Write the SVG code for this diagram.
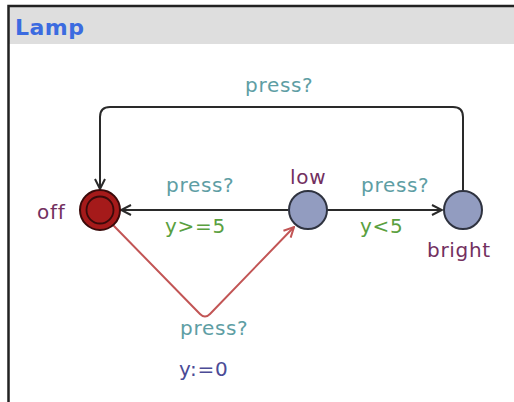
<svg xmlns="http://www.w3.org/2000/svg" width="514" height="402" viewBox="0 0 514 402">
<defs>
<style>
.t{font-family:"DejaVu Sans",sans-serif;font-size:20px;letter-spacing:0.7px}
.sync{fill:#5e9ea4}
.guard{fill:#5aa040}
.assign{fill:#4b4b96}
.name{fill:#73305f}
.edge{fill:none;stroke:#2a2a2a;stroke-width:2}
.red{fill:none;stroke:#c25555;stroke-width:2}
.loc{fill:#929cc0;stroke:#2f3340;stroke-width:2}
</style>
<marker id="ah" viewBox="0 0 12 12" refX="11" refY="6" markerWidth="12" markerHeight="12" markerUnits="userSpaceOnUse" orient="auto"><path d="M1,1 L11,6 L1,11" fill="none" stroke="#2a2a2a" stroke-width="2"/></marker>
<marker id="ahr" viewBox="0 0 12 12" refX="11" refY="6" markerWidth="12" markerHeight="12" markerUnits="userSpaceOnUse" orient="auto"><path d="M1,1 L11,6 L1,11" fill="none" stroke="#c25555" stroke-width="2"/></marker>
</defs>
<rect x="0" y="0" width="514" height="402" fill="#ffffff"/>
<rect x="9" y="7" width="510" height="37" fill="#dedede"/>
<path d="M8.5,404 V6 H516" fill="none" stroke="#222" stroke-width="2.5"/>
<text x="15" y="35" font-family="DejaVu Sans,sans-serif" font-weight="bold" font-size="22" fill="#3b6be0" letter-spacing="0.5">Lamp</text>
<g id="connectors">
<path class="edge" d="M463,190 V117 Q463,107 453,107 H110 Q100,107 100,117 V189" marker-end="url(#ah)"/>
<path class="edge" d="M288,210 H121" marker-end="url(#ah)"/>
<path class="edge" d="M327,210 H442" marker-end="url(#ah)"/>
<path class="red" d="M113,225 L200,314 Q205,319 210,314 L294,227" marker-end="url(#ahr)"/>
<text class="t sync" x="245" y="92">press?</text>
<text class="t sync" x="166" y="192">press?</text>
<text class="t guard" x="165" y="233">y&gt;=5</text>
<text class="t sync" x="361" y="192">press?</text>
<text class="t guard" x="360" y="233">y&lt;5</text>
<text class="t sync" x="180" y="335">press?</text>
<text class="t assign" x="179" y="376">y:=0</text>
</g>
<g id="off">
<circle cx="100" cy="210" r="20" fill="#a51a1a" stroke="#3a0a0a" stroke-width="2"/>
<circle cx="100" cy="210" r="13.5" fill="none" stroke="#3a0a0a" stroke-width="1.8"/>
<text class="t name" x="37" y="219">off</text>
</g>
<g id="low">
<circle class="loc" cx="308" cy="210" r="19"/>
<text class="t name" x="290" y="184">low</text>
</g>
<g id="bright">
<circle class="loc" cx="463" cy="210" r="19"/>
<text class="t name" x="427" y="257">bright</text>
</g>
</svg>
